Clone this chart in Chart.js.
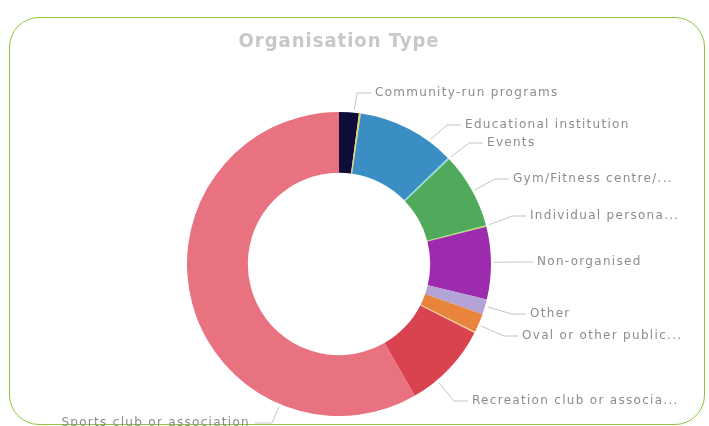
<!DOCTYPE html>
<html>
<head>
<meta charset="utf-8">
<script src="https://cdn.jsdelivr.net/npm/chart.js@4.4.1/dist/chart.umd.min.js"></script>
<style>
  html, body { margin: 0; padding: 0; background: #fff; }
  #wrap { position: relative; width: 709px; height: 426px; overflow: hidden; }
  #frame {
    position: absolute; left: 9px; top: 17px; width: 696px; height: 408px;
    border: 1.5px solid #8cc63f; border-radius: 30px; box-sizing: border-box;
  }
  #myChart { position: absolute; left: 0; top: 0; }
</style>
</head>
<body>
<div id="wrap">
  <div id="frame"></div>
  <canvas id="myChart" width="709" height="426"></canvas>
</div>
<script>
// share of responses per organisation type (%), clockwise from 12 o'clock
const categories = [
    'Community-run programs', '', 'Educational institution', 'Events',
    'Gym/Fitness centre/...', 'Individual persona...', 'Non-organised', 'Other',
    'Oval or other public...', '', 'Recreation club or associa...', 'Sports club or association'
];
const shares = [2.1, 0.2, 10.4, 0.2, 8.0, 0.15, 7.7, 1.6, 2.0, 0.15, 9.2, 58.3];
const sliceColours = [
    '#100d3a', '#e9d46a', '#3b8ec4', '#8ed8dc', '#4fab5b', '#b5d96b',
    '#9c2bae', '#b3a3d6', '#e8843c', '#f8c68e', '#d9434f', '#e8727f'
];

// where each outside label sits: [x, y, text alignment]
const labelSpots = [
    [375, 93, 'left'], null, [465, 125, 'left'], [487, 143, 'left'],
    [513, 179, 'left'], [530, 216, 'left'], [537, 262, 'left'], [530, 314, 'left'],
    [522, 336, 'left'], null, [472, 401, 'left'], [250, 423, 'right']
];

const LABEL_FONT = "12px 'DejaVu Sans'";
const TITLE_FONT = "bold 20px 'DejaVu Sans Condensed'";

const outsideLabels = {
    id: 'outsideLabels',
    afterDatasetsDraw(chart) {
        const ctx = chart.ctx;
        const arcs = chart.getDatasetMeta(0).data;

        ctx.save();
        // title
        ctx.font = TITLE_FONT;
        ctx.fillStyle = '#c8c8c8';
        ctx.textAlign = 'center';
        ctx.textBaseline = 'middle';
        ctx.letterSpacing = '1px';
        const mid = (chart.chartArea.left + chart.chartArea.right) / 2;
        ctx.fillText('Organisation Type', mid, 42);

        ctx.font = LABEL_FONT;
        ctx.letterSpacing = '1.3px';
        ctx.lineWidth = 1;
        arcs.forEach((arc, i) => {
            const spot = labelSpots[i];
            if (!spot || !categories[i]) return;
            const [tx, ty, align] = spot;
            const p = arc.getProps(['x', 'y', 'startAngle', 'endAngle', 'outerRadius'], true);
            const elbowX = align === 'left' ? tx - 18 : tx + 22;
            const endX = align === 'left' ? tx - 4 : tx + 5;

            // aim the leader at the part of the slice facing the label
            let a = Math.atan2(ty - p.y, elbowX - p.x);
            while (a < p.startAngle) a += Math.PI * 2;
            while (a > p.startAngle + Math.PI * 2) a -= Math.PI * 2;
            const span = p.endAngle - p.startAngle;
            const lo = p.startAngle + span * 0.25, hi = p.endAngle - span * 0.25;
            if (a > hi) {
                // pick whichever bound is nearer around the circle
                const dHi = a - hi, dLo = p.startAngle + Math.PI * 2 - a + span * 0.25;
                a = dHi < dLo ? hi : lo;
            }
            if (a < lo) a = lo;
            const r = p.outerRadius + 3;
            const sx = p.x + Math.cos(a) * r, sy = p.y + Math.sin(a) * r;

            ctx.strokeStyle = '#c4c4c4';
            ctx.beginPath();
            ctx.moveTo(sx, sy);
            ctx.lineTo(elbowX, ty);
            ctx.lineTo(endX, ty);
            ctx.stroke();

            ctx.fillStyle = '#8c8c8c';
            ctx.textAlign = align;
            ctx.textBaseline = 'middle';
            ctx.fillText(categories[i], tx, ty);
        });
        ctx.restore();
    }
};

const config = {
    type: 'doughnut',
    data: {
        labels: categories,
        datasets: [{
            data: shares,
            backgroundColor: sliceColours,
            borderWidth: 0,
            hoverOffset: 0,
            offset: 0
        }]
    },
    options: {
        responsive: false,
        animation: false,
        events: [],
        cutout: '60%',
        layout: { padding: { left: 187, right: 218, top: 112, bottom: 10 } },
        plugins: {
            legend: { display: false },
            title: { display: false },
            tooltip: { enabled: false }
        }
    },
    plugins: [outsideLabels]
};

const myChart = new Chart(document.getElementById('myChart'), config);
</script>
</body>
</html>
